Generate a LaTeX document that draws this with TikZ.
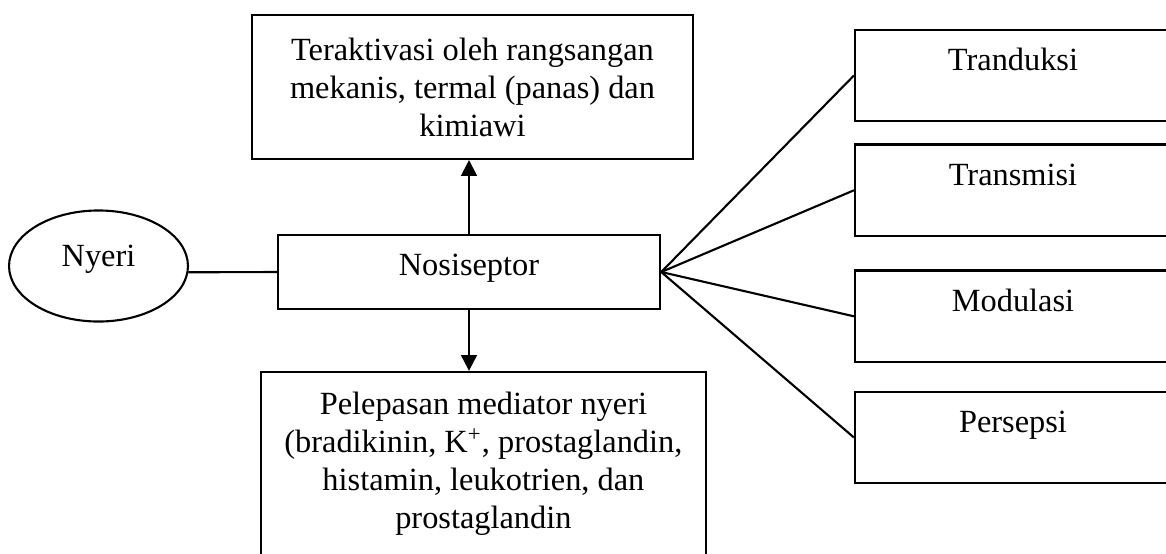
\documentclass[tikz,border=0pt]{standalone}
\usepackage{fontspec}
\setmainfont{Liberation Serif}
\usetikzlibrary{arrows.meta,shapes.geometric}

\begin{document}
\begin{tikzpicture}[x=0.38pt, y=-0.38pt,
                    thick,
                    >={Triangle[length=6pt,width=6pt]},
                    font=\fontsize{12.3}{14.45}\selectfont]
    \tikzstyle{box}=[rectangle,
                    draw=black,
                    inner sep=0pt,
                    align=center]
    \tikzstyle{stage}=[box,
                    minimum width=120.1pt,
                    text height=15.4pt,
                    text depth=19.4pt]

    \useasboundingbox (0,0) rectangle (1166,553);
    \clip (0,0) rectangle (1166,553);

    \node[box, minimum width=167.6pt, minimum height=54.7pt] (stimulus) at (472.5,87)
        {Teraktivasi oleh rangsangan\\mekanis, termal (panas) dan\\kimiawi};
    \node[box, minimum width=145.3pt, text height=15.2pt, text depth=12.9pt] (nosiseptor) at (469,272) {Nosiseptor};
    \node[ellipse, draw=black, inner sep=0pt, minimum width=68pt, minimum height=42.2pt,
          text height=5.5pt, text depth=5.5pt] (nyeri) at (98.5,266) {Nyeri};
    \node[box, minimum width=169.2pt, minimum height=70pt] (mediator) at (483.4,464)
        {Pelepasan mediator nyeri\\(bradikinin, K\textsuperscript{+}, prostaglandin,\\histamin, leukotrien, dan\\prostaglandin};

    \node[stage] (tranduksi) at (1013,75.5) {Tranduksi};
    \node[stage] (transmisi) at (1013,190.3) {Transmisi};
    \node[stage] (modulasi) at (1013,316.3) {Modulasi};
    \node[stage] (persepsi) at (1013,437.5) {Persepsi};

    \draw (nyeri.-4) -- (nosiseptor.west);
    \draw[->] (nosiseptor.north) -- (nosiseptor.north |- stimulus.south);
    \draw[->] (nosiseptor.south) -- (nosiseptor.south |- mediator.north);
    \foreach \target in {tranduksi,transmisi,modulasi,persepsi}
        \draw (nosiseptor.east) -- (\target.west);
\end{tikzpicture}
\end{document}
